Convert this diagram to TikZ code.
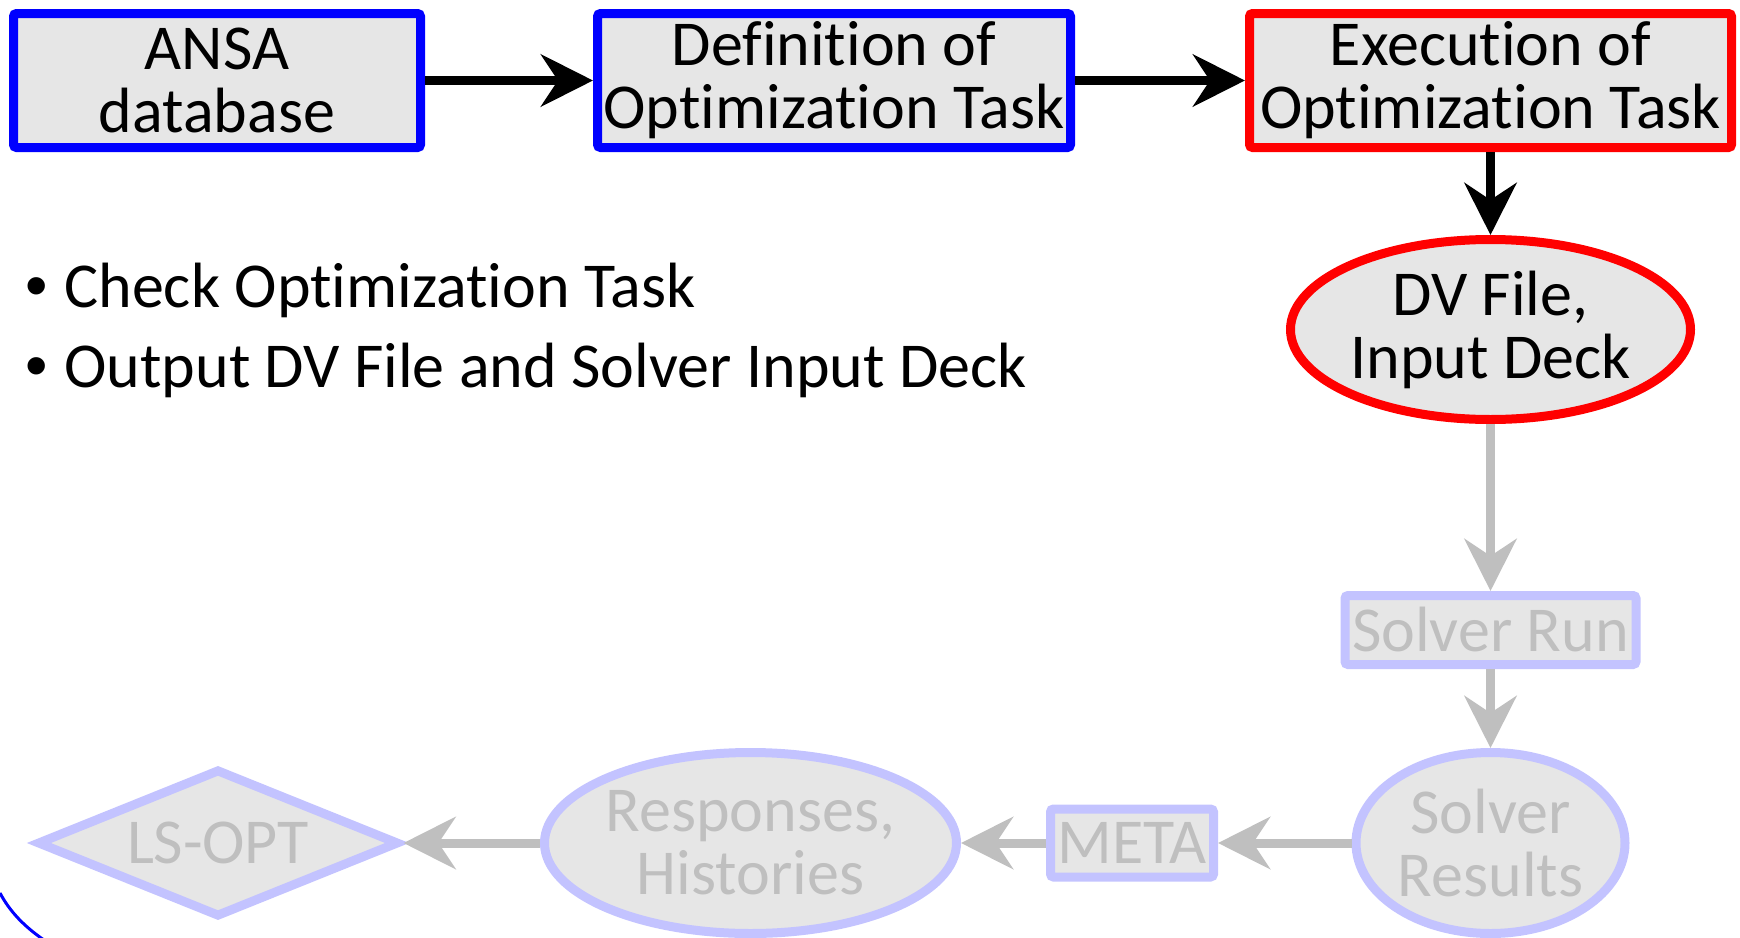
\documentclass[tikz,border=0pt]{standalone}
\usepackage{fontspec}
\setmainfont{Carlito}[Ligatures=CommonOff]
\newfontfamily\bulletfont{Liberation Sans}
\usetikzlibrary{arrows.meta,shapes.geometric}
\definecolor{fillgray}{RGB}{230,230,230}
\definecolor{fadeblue}{RGB}{195,195,255}
\definecolor{fadegray}{RGB}{191,191,191}
\definecolor{pureblue}{RGB}{0,0,255}
\definecolor{purered}{RGB}{255,0,0}
\begin{document}
\begin{tikzpicture}[x=0.5pt,y=-0.5pt,
  every node/.style={font=\fontsize{32pt}{31.5pt}\selectfont, align=center, inner sep=0pt},
  activebox/.style={draw, fill=fillgray, line width=4.5pt, rounded corners=1.5pt, minimum height=67pt},
  fadebox/.style={draw=fadeblue, fill=fillgray, text=fadegray, line width=4.5pt, rounded corners=1.5pt},
  fadeell/.style={ellipse, draw=fadeblue, fill=fillgray, text=fadegray, line width=4.5pt},
  blackarrow/.style={draw=black, line width=4.5pt, -{Stealth[length=26pt,width=26pt,inset=8.5pt]}},
  grayarrow/.style={draw=fadegray, line width=4.5pt, -{Stealth[length=26pt,width=26pt,inset=8.5pt]}},
  bullettext/.style={anchor=base west},
  bulletmark/.style={anchor=base west, font=\bulletfont\fontsize{32pt}{31.5pt}\selectfont},
]
\useasboundingbox (0,0) rectangle (1740,937);

% top row
\node[activebox, draw=pureblue, minimum width=203.5pt] (ansa) at (217,80.5) {ANSA\\database};
\node[activebox, draw=pureblue, minimum width=236.5pt] (def) at (834,80.5) {Definition of\\Optimization Task};
\node[activebox, draw=purered, minimum width=241pt] (exec) at (1490.5,80.5) {Execution of\\Optimization Task};

\draw[blackarrow] (ansa) -- (def);
\draw[blackarrow] (def) -- (exec);

% DV file ellipse
\node[ellipse, draw=purered, fill=fillgray, line width=4.5pt, minimum width=200pt, minimum height=90pt] (dv) at (1490.5,329.5) {DV File,\\Input Deck};
\draw[blackarrow] (exec) -- (dv);

% bullets
\node[bulletmark] (b1) at (25,307) {•};
\node[bullettext] (t1) at (64,307) {Check Optimization Task};
\node[bulletmark] (b2) at (25,387) {•};
\node[bullettext] (t2) at (64,387) {Output DV File and Solver Input Deck};

% faded part
\node[fadebox, minimum width=145.5pt, minimum height=34.5pt] (run) at (1490.5,630) {Solver Run};
\node[fadeell, minimum width=134.5pt, minimum height=90.5pt] (res) at (1490.5,843) {Solver\\Results};
\node[fadebox, minimum width=81.5pt, minimum height=34pt] (meta) at (1132,843) {META};
\node[fadeell, minimum width=206pt, minimum height=90.5pt] (resp) at (750.5,843) {Responses,\\Histories};
\node[diamond, aspect=2.5, draw=fadeblue, fill=fillgray, text=fadegray, line width=4.5pt, minimum width=181pt, minimum height=74pt] (ls) at (218,843) {LS-OPT};

\draw[grayarrow] (dv) -- (run);
\draw[grayarrow] (run) -- (res);
\draw[grayarrow] (res) -- (meta);
\draw[grayarrow] (meta) -- (resp);
\draw[grayarrow] (resp) -- (ls);

% blue arc at bottom-left corner
\draw[pureblue, line width=1.5pt] (0,893) .. controls (10,912) and (25,927) .. (44,940);
\end{tikzpicture}
\end{document}
